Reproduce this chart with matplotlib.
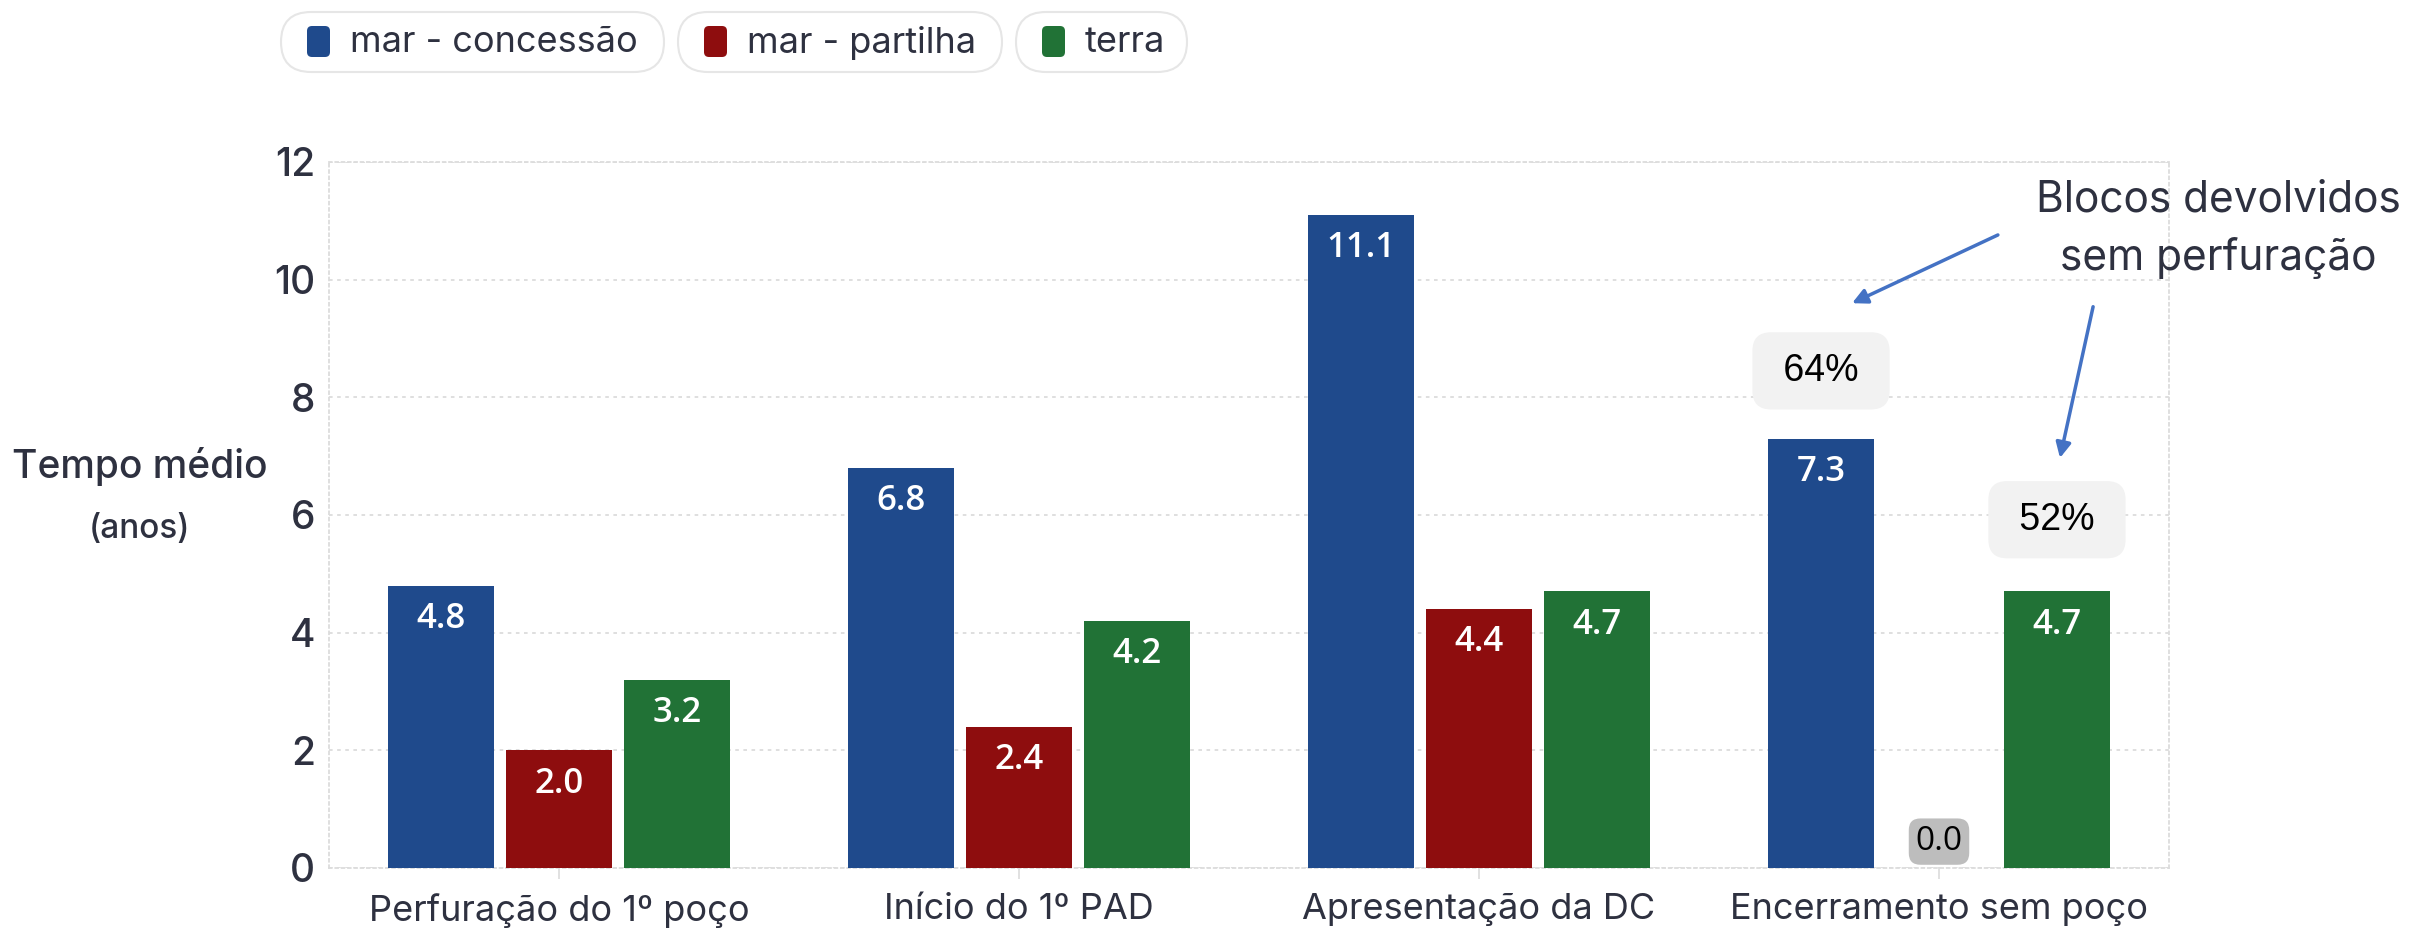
import numpy as np
import matplotlib.pyplot as plt
from matplotlib.patches import FancyBboxPatch

categories = ['Perfuração do 1º poço', 'Início do 1º PAD', 'Apresentação da DC', 'Encerramento sem poço']
series = ['mar - concessão', 'mar - partilha', 'terra']
concessao = [4.8, 6.8, 11.1, 7.3]
partilha = [2.0, 2.4, 4.4, 0.0]
terra = [3.2, 4.2, 4.7, 4.7]
colors = ['#1F4A8C', '#8E0D0E', '#217236']
pct_labels = ['64%', '52%']
note = 'Blocos devolvidos\nsem perfuração'

txt = '#2E3140'
grid_c = '#DCDCDC'
plt.rcParams['font.family'] = ['Inter', 'DejaVu Sans']

fig = plt.figure(figsize=(24.1, 9.31), dpi=100)
ax = fig.add_axes([329/2410, 1-868/931, 1840/2410, 706/931])

x = np.arange(len(categories))
w = 0.23
step = 0.2565
for i, (vals, c) in enumerate(zip([concessao, partilha, terra], colors)):
    bars = ax.bar(x + (i-1)*step, vals, w, color=c, linewidth=0, zorder=3)
    for b, v in zip(bars, vals):
        cx = b.get_x() + b.get_width()/2
        if v > 0:
            ax.annotate(f'{v:.1f}', (cx, v), xytext=(0, -24), textcoords='offset points',
                        ha='center', va='center', color='white', fontsize=25,
                        fontweight='semibold', family=['Open Sans', 'DejaVu Sans'], zorder=4)
        else:
            ax.annotate(f'{v:.1f}', (cx, v), xytext=(0, 19), textcoords='offset points',
                        ha='center', va='center', color='black', fontsize=24,
                        family=['Open Sans', 'DejaVu Sans'], zorder=4,
                        bbox=dict(boxstyle='round,pad=0.2,rounding_size=0.35', fc='#BDBDBD', ec='none'))

ax.set_xlim(-0.5, 3.5)
ax.set_ylim(0, 12)
ax.set_yticks(np.arange(0, 13, 2))
ax.set_xticks(x)
ax.set_xticklabels(categories)
ax.tick_params(axis='x', length=8, width=1.2, color=grid_c, pad=10, labelsize=26, labelcolor=txt)
ax.tick_params(axis='y', length=0, pad=10, labelsize=28, labelcolor=txt)
for t in ax.get_yticklabels():
    t.set_fontweight('medium')
ax.yaxis.grid(True, color=grid_c, linestyle=(0, (2, 2.5)), linewidth=1.3, zorder=0)
for s in ax.spines.values():
    s.set_color(grid_c)
    s.set_linestyle((0, (1.5, 2)))
    s.set_linewidth(1.3)

# percentage boxes above the last group
box = dict(boxstyle='round,pad=0.55,rounding_size=0.5', fc='#F2F2F2', ec='none')
ax.text(3 - step, 8.45, ' ' + pct_labels[0] + ' ', ha='center', va='center', fontsize=27,
        family=['Liberation Sans', 'DejaVu Sans'], color='black', bbox=box, zorder=5)
ax.text(3 + step, 5.92, ' ' + pct_labels[1] + ' ', ha='center', va='center', fontsize=27,
        family=['Liberation Sans', 'DejaVu Sans'], color='black', bbox=box, zorder=5)

ax.text(3.607, 10.86, note, ha='center', va='center', fontsize=30.5, color=txt,
        linespacing=1.5, clip_on=False, zorder=5)
arrow = dict(arrowstyle='-|>,head_length=0.9,head_width=0.45', color='#4472C4', lw=2.5,
             shrinkA=0, shrinkB=0)
ax.annotate('', xy=(2.811, 9.60), xytext=(3.128, 10.76), arrowprops=arrow, annotation_clip=False)
ax.annotate('', xy=(3.263, 6.97), xytext=(3.335, 9.54), arrowprops=arrow, annotation_clip=False)

# y label
fig.text(140/2410, 1-466/931, 'Tempo médio', ha='center', va='center', fontsize=28,
         fontweight='medium', color=txt)
fig.text(140/2410, 1-529/931, '(anos)', ha='center', va='center', fontsize=24,
         fontweight='medium', color=txt)

# legend pills on a pixel overlay
lax = fig.add_axes([0, 0, 1, 1], zorder=10)
lax.set_xlim(0, 2410)
lax.set_ylim(931, 0)
lax.axis('off')
pills = [(281, 664), (678, 1002), (1016, 1187)]
for (x0, x1), name, c in zip(pills, series, colors):
    lax.add_patch(FancyBboxPatch((x0 + 30, 12 + 30), x1 - x0 - 60, 0,
                                 boxstyle='round,pad=30', fc='white', ec='#E6E6E6', lw=1.5))
    lax.add_patch(FancyBboxPatch((x0 + 26 + 5, 26 + 5), 13, 21,
                                 boxstyle='round,pad=5', fc=c, ec='none'))
    lax.text(x0 + 69, 43, name, ha='left', va='center', fontsize=26, color=txt)

fig.savefig('out.png', dpi=100, facecolor='white')
